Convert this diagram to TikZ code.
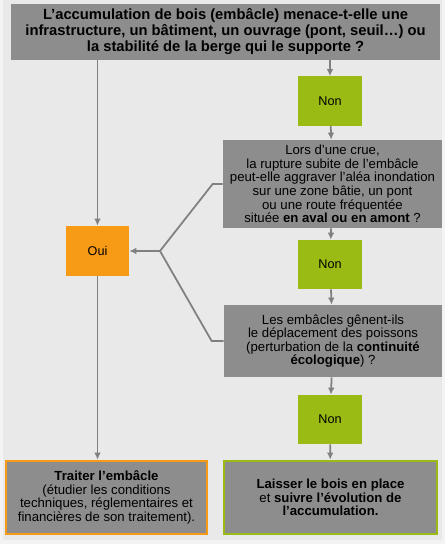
\documentclass[tikz,border=0pt]{standalone}
\usepackage{fontspec}
\setmainfont{Liberation Sans}
\usepackage{tikz}
\usetikzlibrary{arrows.meta,positioning,calc}

\definecolor{fond}{RGB}{233,233,233}
\definecolor{bord}{RGB}{243,243,243}
\definecolor{boite}{RGB}{141,141,141}
\definecolor{vert}{RGB}{153,187,20}
\definecolor{orange}{RGB}{247,155,22}
\definecolor{trait}{RGB}{128,128,128}

\tikzset{
  question/.style={fill=boite,inner sep=0pt,align=center,font=\fontsize{7.5}{7.7}\selectfont},
  reponse/.style={minimum width=64*0.02cm,minimum height=49*0.02cm,inner sep=0pt,font=\fontsize{7.2}{8}\selectfont},
  fleche/.style={draw=trait,line width=1pt,-{Latex[length=4pt,width=3.8pt]}},
  lien/.style={draw=trait,line width=1pt},
}

\begin{document}
\begin{tikzpicture}[x=0.02cm,y=-0.02cm]
  % fond
  \fill[bord] (0,0) rectangle (445,544);
  \fill[fond] (3,0) rectangle (442,540);
  \useasboundingbox (0,0) rectangle (445,544);
  % question principale
  \node[question,minimum width=429*0.02cm,minimum height=56*0.02cm,
        font=\bfseries\fontsize{8.4}{9.1}\selectfont] (q1) at (225.5,32)
    {L'accumulation de bois (embâcle) menace-t-elle une\\
     infrastructure, un bâtiment, un ouvrage (pont, seuil\ldots) ou\\
     la stabilité de la berge qui le supporte ?};
  % colonne de droite
  \node[reponse,fill=vert] (non1) at (330,101) {Non};
  \node[question,minimum width=219*0.02cm,minimum height=88*0.02cm] (q2) at (332.5,184)
    {Lors d'une crue,\\
     la rupture subite de l'embâcle\\
     peut-elle aggraver l'aléa inondation\\
     sur une zone bâtie, un pont\\
     ou une route fréquentée\\
     située \textbf{en aval ou en amont} ?};
  \node[reponse,fill=vert] (non2) at (330,264.5) {Non};
  \node[question,minimum width=218*0.02cm,minimum height=72*0.02cm] (q3) at (333,341)
    {Les embâcles gênent-ils\\
     le déplacement des poissons\\
     (perturbation de la \textbf{continuité}\\
     \textbf{écologique}) ?};
  \node[reponse,fill=vert] (non3) at (330,419.5) {Non};
  \node[question,draw=vert,line width=1.6pt,minimum width=213*0.02cm,minimum height=73*0.02cm] (laisser) at (330.5,497.5)
    {\textbf{Laisser le bois en place}\\
     et \textbf{suivre l'évolution de}\\
     \textbf{l'accumulation.}};
  % colonne de gauche
  \node[reponse,fill=orange,minimum width=63*0.02cm,minimum height=50*0.02cm] (oui) at (97.5,251) {Oui};
  \node[question,draw=orange,line width=1.6pt,minimum width=201*0.02cm,minimum height=73*0.02cm] (traiter) at (106.5,497.5)
    {\textbf{Traiter l'embâcle}\\
     (étudier les conditions\\
     techniques, réglementaires et\\
     financières de son traitement).};
  % liaisons
  \draw[fleche] (q1.south -| non1) -- (non1.north);
  \draw[fleche] (non1) -- (q2);
  \draw[fleche] (q2) -- (non2);
  \draw[fleche] (non2) -- (q3);
  \draw[fleche] (q3) -- (non3);
  \draw[fleche] (non3) -- (laisser);
  \draw[fleche] (q1.south -| oui) -- (oui.north);
  \draw[fleche] (oui.south) -- (traiter.north -| oui);
  \coordinate (fourche) at (160,251);
  \draw[lien] (q2.west) -- ++(-10,0) -- (fourche);
  \draw[lien] (q3.west) -- ++(-12,0) -- (fourche);
  \draw[fleche] (fourche) -- (oui.east);
\end{tikzpicture}
\end{document}
